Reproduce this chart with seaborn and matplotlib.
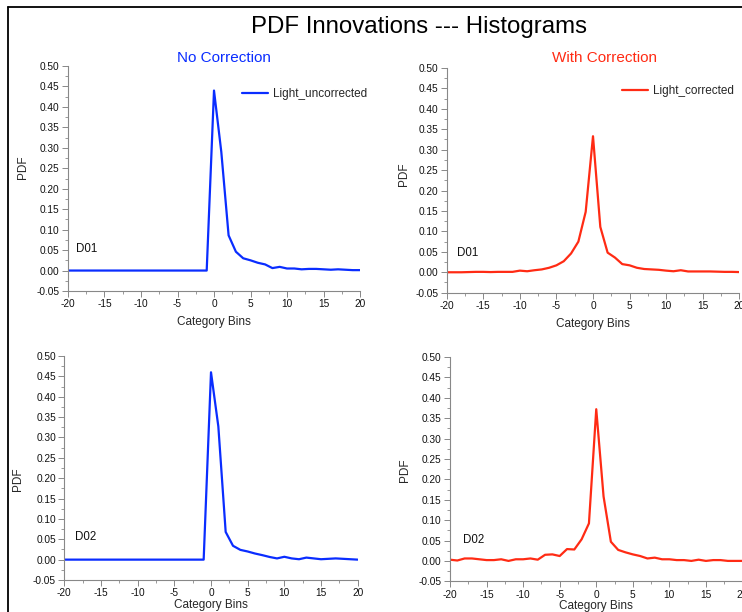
import numpy as np
import pandas as pd
import matplotlib
matplotlib.use("Agg")
import matplotlib.pyplot as plt
from matplotlib.lines import Line2D
from matplotlib.ticker import MultipleLocator, FormatStrFormatter
import seaborn as sns

bins = list(range(-20, 21))

d01_uncorrected = [0.0] * 20 + [0.44, 0.29, 0.086, 0.046, 0.030, 0.025, 0.019, 0.015, 0.006, 0.009,
                                0.005, 0.005, 0.003, 0.004, 0.004, 0.003, 0.002, 0.003, 0.002, 0.001, 0.001]
d01_corrected = [0.0, 0.0, 0.0, 0.0005, 0.001, 0.001, 0.0005, 0.001, 0.001, 0.001,
                 0.004, 0.0025, 0.005, 0.007, 0.011, 0.017, 0.027, 0.046, 0.075, 0.148,
                 0.333,
                 0.111, 0.048, 0.036, 0.020, 0.017, 0.011, 0.008, 0.007, 0.006, 0.004,
                 0.0025, 0.005, 0.002, 0.002, 0.002, 0.002, 0.0015, 0.001, 0.001, 0.0005]
d02_uncorrected = [0.0] * 20 + [0.46, 0.327, 0.068, 0.034, 0.024, 0.020, 0.015, 0.011, 0.0065, 0.003,
                                0.007, 0.003, 0.001, 0.005, 0.003, 0.001, 0.002, 0.003, 0.002, 0.001, 0.0]
d02_corrected = [0.003, 0.001, 0.006, 0.006, 0.004, 0.002, 0.002, 0.004, 0.0, 0.004,
                 0.004, 0.006, 0.003, 0.015, 0.016, 0.012, 0.029, 0.028, 0.053, 0.092,
                 0.372,
                 0.158, 0.047, 0.027, 0.021, 0.016, 0.012, 0.006, 0.008, 0.004, 0.004,
                 0.002, 0.002, 0.0, 0.003, 0.0, 0.002, 0.002, 0.0, 0.0, 0.0]

title = "PDF Innovations --- Histograms"
col_titles = ["No Correction", "With Correction"]
series_names = ["Light_uncorrected", "Light_corrected"]
panel_labels = ["D01", "D02"]

sns.set_style("white")
plt.rcParams['font.family'] = ['Liberation Sans', 'DejaVu Sans']
plt.rcParams['axes.unicode_minus'] = False

BLUE = '#0a2dff'
RED = '#ff2b14'

fig = plt.figure(figsize=(7.42, 6.12), dpi=100)

W, H = 742.0, 612.0
def fx(px):
    return px / W
def fy(py):
    return 1 - py / H
def rect(x0, x1, ytop, ybot):
    return [x0 / W, 1 - ybot / H, (x1 - x0) / W, (ybot - ytop) / H]

# (x0, x1, ytop, ybot) in pixels
pix = {
    (0, 0): (68, 360, 66, 291),
    (0, 1): (446.7, 739.3, 68, 292.7),
    (1, 0): (64.3, 357.7, 356, 580),
    (1, 1): (450, 742.5, 357, 581.3),
}
data = {
    (0, 0): d01_uncorrected,
    (0, 1): d01_corrected,
    (1, 0): d02_uncorrected,
    (1, 1): d02_corrected,
}
# ylabel (x, y) pixel centers
ylab_pos = {(0, 0): (22, 167), (0, 1): (403, 174), (1, 0): (17, 479), (1, 1): (404, 470)}
# panel label (axes fraction)
plab_pos = {(0, 0): (0.027, 0.187), (0, 1): (0.035, 0.177), (1, 0): (0.036, 0.193), (1, 1): (0.043, 0.184)}
legend_anchor = {0: (242, 94), 1: (622, 91)}
subtitle_x = {0: 224, 1: 605}

for (r, c), (x0, x1, yt, yb) in pix.items():
    ax = fig.add_axes(rect(x0, x1, yt, yb))
    ax.patch.set_alpha(0)
    df = pd.DataFrame({"Category Bins": bins, "PDF": data[(r, c)]})
    color = BLUE if c == 0 else RED
    sns.lineplot(data=df, x="Category Bins", y="PDF", ax=ax, color=color,
                 linewidth=1.6, label=series_names[c] if r == 0 else None)
    ax.set_xlim(-20, 20)
    ax.set_ylim(-0.05, 0.50)
    ax.xaxis.set_major_locator(MultipleLocator(5))
    ax.xaxis.set_minor_locator(MultipleLocator(2.5))
    ax.yaxis.set_major_locator(MultipleLocator(0.05))
    ax.yaxis.set_minor_locator(MultipleLocator(0.025))
    ax.yaxis.set_major_formatter(FormatStrFormatter('%.2f'))
    for s in ['top', 'right']:
        ax.spines[s].set_visible(False)
    for s in ['left', 'bottom']:
        ax.spines[s].set_color('#888888')
        ax.spines[s].set_linewidth(0.8)
    ax.tick_params(which='major', direction='out', length=4, width=0.7,
                   color='#888888', labelsize=7.3, labelcolor='#111111', pad=2,
                   bottom=True, left=True)
    ax.tick_params(which='minor', direction='out', length=2, width=0.6,
                   color='#888888', bottom=True, left=True)
    ax.set_xlabel("Category Bins", fontsize=8.5, labelpad=5 if r == 0 else 0.5)
    ax.set_ylabel("PDF", fontsize=8.5)
    lx, ly = ylab_pos[(r, c)]
    lx += 7
    ax.yaxis.set_label_coords((lx - x0) / (x1 - x0), (yb - ly) / (yb - yt))
    px, py = plab_pos[(r, c)]
    ax.text(px, py, panel_labels[r], transform=ax.transAxes,
            fontsize=8.3, ha='left', va='center', color='#111111')
    if r == 0:
        ax_, ay_ = legend_anchor[c]
        ax.legend(loc='center left', frameon=False, fontsize=8.5,
                  handlelength=2.2, handletextpad=0.42, borderpad=0,
                  borderaxespad=0, bbox_to_anchor=(fx(ax_), fy(ay_)),
                  bbox_transform=fig.transFigure)
        fig.text(fx(subtitle_x[c]), fy(61.5), col_titles[c], fontsize=11,
                 color=color, ha='center', va='baseline')

fig.text(fx(419), fy(33), title, fontsize=17.3, ha='center', va='baseline',
         color='black')

# page frame
fig.add_artist(Line2D([fx(8), fx(8)], [0, fy(7)], color='black', linewidth=1.3))
fig.add_artist(Line2D([fx(8), 1], [fy(7), fy(7)], color='black', linewidth=1.3))

fig.savefig("out.png", dpi=100)
